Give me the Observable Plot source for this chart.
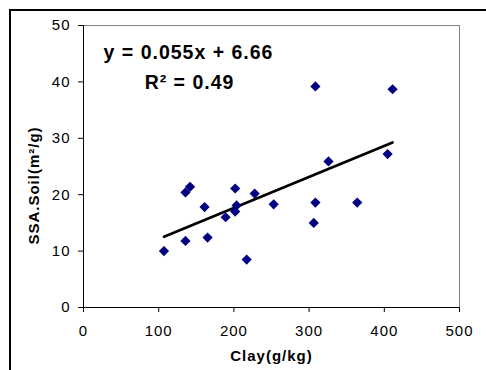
<!DOCTYPE html>
<html>
<head>
<meta charset="utf-8">
<script src="https://cdn.jsdelivr.net/npm/d3@7"></script>
<script src="https://cdn.jsdelivr.net/npm/@observablehq/plot@0.6"></script>
<style>
  html, body { margin: 0; padding: 0; background: #fff; }
  #wrap { position: relative; width: 486px; height: 370px; overflow: hidden; }
  #outer { position: absolute; left: 9px; top: 9px; right: -5px; bottom: -5px;
           border-left: 2px solid #000; border-top: 2px solid #000; pointer-events: none; }
  #wrap svg { position: absolute; left: 0; top: 0; }
</style>
</head>
<body>
<div id="wrap"><div id="outer"></div></div>
<script>
// Clay content (g/kg) and specific surface area of soil (m²/g)
const clay = [107, 135.6, 135.6, 141.7, 161, 165, 189, 201.7, 201.7, 203.6, 217, 227.6, 252.9, 306.2, 308.4, 308.4, 325.8, 364, 404.4, 411];
const ssa  = [10.0, 11.8, 20.4, 21.4, 17.8, 12.4, 16.0, 21.1, 17.0, 18.1, 8.5, 20.2, 18.3, 15.0, 18.6, 39.2, 25.9, 18.6, 27.2, 38.7];

// Trendline as reported on the chart
const slope = 0.055;
const intercept = 6.66;
const equationText = "y = 0.055x + 6.66";
const r2Text = "R² = 0.49";

const xTicks = [0, 100, 200, 300, 400, 500];
const yTicks = [0, 10, 20, 30, 40, 50];
const xLabel = "Clay(g/kg)";
const yLabel = "SSA.Soil(m²/g)";

const points = clay.map((c, i) => ({clay: c, ssa: ssa[i]}));
const trend = d3.extent(clay).map(x => ({clay: x, ssa: slope * x + intercept}));

const chart = Plot.plot({
  width: 486,
  height: 370,
  marginLeft: 83,
  marginRight: 27,
  marginTop: 25,
  marginBottom: 63,
  x: {domain: [0, 500]},
  y: {domain: [0, 50]},
  style: {
    fontFamily: "'Liberation Sans', Arial, sans-serif",
    fontSize: "15px",
    letterSpacing: "1px",
    background: "transparent",
    color: "#000",
    overflow: "visible"
  },
  marks: [
    Plot.frame({stroke: "#808080"}),
    Plot.ruleX([0], {stroke: "#000"}),
    Plot.ruleY([0], {stroke: "#000"}),
    Plot.axisX({ticks: xTicks, tickSize: 5, tickPadding: 13, label: null}),
    Plot.axisY({ticks: yTicks, tickSize: 5, tickPadding: 8, label: null}),
    Plot.line(trend, {x: "clay", y: "ssa", stroke: "#000", strokeWidth: 2.6}),
    Plot.dot(points, {x: "clay", y: "ssa", symbol: "diamond2", r: 4.6, fill: "#000080", stroke: "none"}),
    Plot.text([equationText], {text: d => d, frameAnchor: "top-left", dx: 105, dy: 27,
      textAnchor: "middle", lineAnchor: "middle", fontWeight: "bold", fontSize: 19.5}),
    Plot.text([r2Text], {text: d => d, frameAnchor: "top-left", dx: 106, dy: 57,
      textAnchor: "middle", lineAnchor: "middle", fontWeight: "bold", fontSize: 19.5}),
    Plot.text([xLabel], {text: d => d, frameAnchor: "bottom", dy: 49,
      textAnchor: "middle", lineAnchor: "middle", fontWeight: "bold", fontSize: 15}),
    Plot.text([yLabel], {text: d => d, frameAnchor: "left", dx: -49, dy: 19, rotate: -90,
      textAnchor: "middle", lineAnchor: "middle", fontWeight: "bold", fontSize: 15})
  ]
});
document.getElementById("wrap").appendChild(chart);
</script>
</body>
</html>
